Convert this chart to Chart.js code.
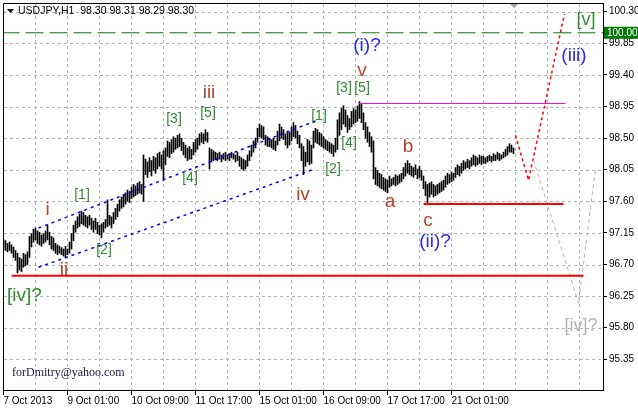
<!DOCTYPE html>
<html>
<head>
<meta charset="UTF-8">
<title>USDJPY,H1</title>
<script src="https://cdn.jsdelivr.net/npm/chart.js"></script>
<style>
  html, body { margin: 0; padding: 0; background: #fff; }
  #wrap { width: 638px; height: 408px; }
</style>
</head>
<body>
<div id="wrap"><canvas id="chart" width="638" height="408"></canvas></div>
<script>
// H1 bars, index 0 = 7 Oct 2013 17:00 (weekend hours skipped)
const highs = [
  97.06,97.04,97.00,97.02,96.98,96.95,96.90,96.86,96.80,96.78,96.86,96.84,96.88,97.10,97.14,97.20,
  97.22,97.18,97.16,97.12,97.14,97.18,97.26,97.16,97.10,97.08,97.00,96.98,96.96,96.94,96.92,96.96,
  96.92,97.02,97.14,97.26,97.32,97.38,97.42,97.46,97.44,97.40,97.38,97.40,97.36,97.32,97.36,97.30,
  97.26,97.28,97.30,97.34,97.62,97.40,97.38,97.44,97.50,97.56,97.62,97.66,97.70,97.72,97.76,97.74,
  97.80,97.84,97.82,97.86,97.88,97.84,98.26,98.20,98.16,98.22,98.18,98.24,98.22,98.28,98.30,98.26,
  98.32,98.36,98.46,98.44,98.48,98.52,98.50,98.54,98.56,98.50,98.44,98.40,98.36,98.38,98.34,98.44,
  98.48,98.50,98.56,98.58,98.56,98.62,98.58,98.36,98.34,98.32,98.30,98.28,98.30,98.26,98.28,98.30,
  98.26,98.28,98.30,98.28,98.26,98.30,98.24,98.22,98.20,98.18,98.26,98.32,98.40,98.46,98.50,98.64,
  98.70,98.68,98.66,98.54,98.52,98.50,98.48,98.50,98.46,98.60,98.70,98.66,98.62,98.56,98.60,98.58,
  98.66,98.72,98.68,98.60,98.54,98.42,98.38,98.30,98.48,98.46,98.40,98.60,98.64,98.62,98.58,98.56,
  98.52,98.48,98.46,98.44,98.42,98.40,98.50,98.76,98.86,98.92,98.96,98.90,98.82,98.78,98.88,98.92,
  98.90,98.96,99.02,98.98,98.86,98.72,98.66,98.58,98.52,98.46,98.08,98.04,98.00,97.98,97.94,97.92,
  97.90,97.96,97.92,97.94,97.98,97.96,97.98,98.00,98.08,98.14,98.18,98.14,98.10,98.08,98.12,98.06,
  98.10,98.04,97.96,97.88,97.84,97.86,97.88,97.84,97.82,97.84,97.86,97.88,97.90,97.96,98.00,97.98,
  98.02,98.00,98.08,98.12,98.10,98.14,98.18,98.16,98.20,98.18,98.22,98.26,98.24,98.22,98.26,98.24,
  98.24,98.22,98.24,98.26,98.24,98.28,98.26,98.30,98.28,98.26,98.30,98.34,98.38,98.42,98.40,98.36
];
const lows = [
  96.93,96.90,96.88,96.90,96.86,96.80,96.76,96.58,96.62,96.60,96.66,96.68,96.70,96.80,96.95,97.02,
  97.05,97.00,96.98,96.96,97.00,97.02,97.05,96.98,96.92,96.90,96.86,96.84,96.86,96.84,96.82,96.80,
  96.84,96.86,96.92,97.04,97.16,97.22,97.24,97.28,97.26,97.24,97.22,97.26,97.20,97.16,97.20,97.14,
  97.12,97.08,97.16,97.22,97.24,97.26,97.22,97.28,97.34,97.38,97.46,97.50,97.52,97.56,97.60,97.58,
  97.64,97.66,97.68,97.70,97.72,97.70,97.60,97.98,97.94,98.02,97.96,98.04,98.00,98.06,98.10,98.06,
  97.90,98.12,98.24,98.22,98.28,98.30,98.34,98.36,98.38,98.32,98.26,98.22,98.18,98.20,98.20,98.26,
  98.30,98.34,98.40,98.44,98.42,98.46,98.44,98.06,98.16,98.18,98.20,98.18,98.20,98.16,98.20,98.18,
  98.20,98.18,98.22,98.20,98.16,98.18,98.10,98.06,98.04,98.06,98.10,98.18,98.24,98.30,98.36,98.44,
  98.52,98.50,98.48,98.40,98.38,98.38,98.36,98.34,98.32,98.40,98.46,98.50,98.48,98.40,98.36,98.40,
  98.46,98.52,98.50,98.42,98.36,98.18,97.98,98.10,98.16,98.12,98.14,98.36,98.44,98.42,98.40,98.38,
  98.36,98.34,98.32,98.30,98.28,98.24,98.30,98.34,98.54,98.62,98.70,98.66,98.58,98.62,98.66,98.70,
  98.72,98.74,98.78,98.72,98.62,98.50,98.44,98.38,98.30,97.92,97.84,97.82,97.80,97.78,97.76,97.74,
  97.72,97.80,97.82,97.84,97.82,97.84,97.86,97.88,97.92,97.96,98.00,97.98,97.96,97.94,97.98,97.92,
  97.94,97.90,97.78,97.68,97.56,97.66,97.70,97.66,97.68,97.70,97.72,97.74,97.76,97.80,97.84,97.86,
  97.88,97.90,97.94,97.98,97.96,98.00,98.04,98.06,98.08,98.06,98.10,98.12,98.10,98.12,98.14,98.12,
  98.14,98.14,98.16,98.18,98.16,98.18,98.18,98.20,98.18,98.20,98.22,98.24,98.26,98.30,98.30,98.28
];

// time axis labels (bar index -> text)
const timeTickIdx = [0, 32, 64, 96, 128, 160, 192, 224];
const timeTickText = ['7 Oct 2013', '9 Oct 01:00', '10 Oct 09:00', '11 Oct 17:00',
                      '15 Oct 01:00', '16 Oct 09:00', '17 Oct 17:00', '21 Oct 01:00'];
const gridIdx = [16, 32, 48, 64, 80, 96, 112, 128, 144, 160, 176, 192, 208, 224, 240, 256, 272, 288];
const priceTicks = [95.35, 95.80, 96.25, 96.70, 97.15, 97.60, 98.05, 98.50, 98.95, 99.40, 99.85, 100.30];

// drawn lines: [bar index, price]
const channelUpper = [[17.5, 97.22], [157.5, 98.76]];
const channelLower = [[17.5, 96.66], [154.5, 98.05]];
const forecastMain = [[256, 98.54], [262.5, 97.90], [280.5, 100.27]];
const forecastAlt  = [[265, 98.19], [287.5, 96.15], [296, 98.07]];
const levelLow   = [[4, 96.54], [290, 96.54]];
const levelC     = [[210, 97.56], [280, 97.56]];
const levelTop   = [[177.5, 98.993], [281, 98.993]];
const levelTarget = [[-1, 100.00], [301, 100.00]];

const ROMAN = '#b8432b', GREEN = '#2e8b2e', BLUE = '#2b2bf0', GREY = '#b4b4b4';
const waveLabels = [
  { t: 'i',    x: 22,    y: 97.48, c: ROMAN, s: 19 },
  { t: 'ii',   x: 30.25, y: 96.62, c: ROMAN, s: 19 },
  { t: 'iii',  x: 102.75,y: 99.14, c: ROMAN, s: 19 },
  { t: 'iv',   x: 149.75,y: 97.69, c: ROMAN, s: 19 },
  { t: 'v',    x: 179.25,y: 99.46, c: ROMAN, s: 19 },
  { t: 'a',    x: 193.25,y: 97.59, c: ROMAN, s: 19 },
  { t: 'b',    x: 202.25,y: 98.37, c: ROMAN, s: 19 },
  { t: 'c',    x: 212.25,y: 97.33, c: ROMAN, s: 19 },
  { t: '[1]',  x: 39.25, y: 97.69, c: GREEN, s: 14 },
  { t: '[2]',  x: 50.25, y: 96.91, c: GREEN, s: 14 },
  { t: '[3]',  x: 85.25, y: 98.77, c: GREEN, s: 14 },
  { t: '[4]',  x: 93.25, y: 97.93, c: GREEN, s: 14 },
  { t: '[5]',  x: 102.25,y: 98.86, c: GREEN, s: 14 },
  { t: '[1]',  x: 157.75,y: 98.81, c: GREEN, s: 14 },
  { t: '[2]',  x: 164.75,y: 98.06, c: GREEN, s: 14 },
  { t: '[3]',  x: 170.25,y: 99.21, c: GREEN, s: 14 },
  { t: '[4]',  x: 172.75,y: 98.43, c: GREEN, s: 14 },
  { t: '[5]',  x: 179.25,y: 99.21, c: GREEN, s: 14 },
  { t: '[iv]?',x: 10.5,  y: 96.25, c: GREEN, s: 19 },
  { t: '[v]',  x: 291.25,y: 100.18,c: GREEN, s: 18 },
  { t: '(i)?', x: 181.75,y: 99.81, c: BLUE,  s: 19 },
  { t: '(iii)',x: 285.25,y: 99.67, c: BLUE,  s: 19 },
  { t: '(ii)?',x: 215.75,y: 97.03, c: BLUE,  s: 19 },
  { t: '[iv]?',x: 288.75,y: 95.82, c: GREY,  s: 18 }
];

const pts = arr => arr.map(p => ({ x: p[0], y: p[1] }));
const lineSet = (arr, color, width, dash) => ({
  type: 'line', data: pts(arr), borderColor: color, borderWidth: width,
  borderDash: dash, pointRadius: 0, fill: false, tension: 0
});

// dashed grid under the bars, placed through the scales
const gridPlugin = {
  id: 'mtgrid',
  beforeDatasetsDraw(chart) {
    const ctx = chart.ctx, a = chart.chartArea;
    const xs = chart.scales.x, ys = chart.scales.y;
    ctx.save();
    ctx.strokeStyle = '#b4b4b4';
    ctx.lineWidth = 1;
    ctx.setLineDash([3, 3]);
    ctx.beginPath();
    gridIdx.forEach(v => {
      const px = Math.floor(xs.getPixelForValue(v)) + 0.5;
      ctx.moveTo(px, a.top + 1); ctx.lineTo(px, a.bottom);
    });
    priceTicks.forEach(v => {
      const py = Math.round(ys.getPixelForValue(v)) + 0.5;
      ctx.moveTo(a.left + 1, py); ctx.lineTo(a.right, py);
    });
    ctx.stroke();
    ctx.restore();
  }
};

// annotations, title and the price box on the right
const decorPlugin = {
  id: 'decor',
  afterDatasetsDraw(chart) {
    const ctx = chart.ctx, xs = chart.scales.x, ys = chart.scales.y, a = chart.chartArea;
    ctx.save();
    ctx.textAlign = 'center';
    ctx.textBaseline = 'middle';
    waveLabels.forEach(l => {
      ctx.font = l.s + 'px "Liberation Sans", Arial, sans-serif';
      ctx.fillStyle = l.c;
      ctx.fillText(l.t, xs.getPixelForValue(l.x), ys.getPixelForValue(l.y));
    });
    // frame left / top
    ctx.strokeStyle = '#000';
    ctx.lineWidth = 1;
    ctx.beginPath();
    ctx.moveTo(a.left + 0.5, a.bottom);
    ctx.lineTo(a.left + 0.5, a.top + 0.5);
    ctx.lineTo(a.right, a.top + 0.5);
    ctx.stroke();
    // title
    ctx.fillStyle = '#000';
    ctx.beginPath();
    ctx.moveTo(7, 9); ctx.lineTo(14, 9); ctx.lineTo(10.5, 13);
    ctx.fill();
    ctx.textAlign = 'left';
    ctx.font = '10.5px "Liberation Sans", Arial, sans-serif';
    ctx.fillText('USDJPY,H1  98.30 98.31 98.29 98.30', 18, 11);
    // shift marker
    ctx.fillStyle = '#a0a0a0';
    ctx.beginPath();
    ctx.moveTo(510, 4); ctx.lineTo(518, 4); ctx.lineTo(514, 8);
    ctx.fill();
    // watermark
    ctx.fillStyle = '#202040';
    ctx.font = '12px "Liberation Serif", "Times New Roman", serif';
    ctx.fillText('forDmitry@yahoo.com', 12, 373);
    // 100.00 price box
    const py = ys.getPixelForValue(100.00);
    ctx.fillStyle = '#007800';
    ctx.fillRect(a.right + 1, py - 6, 34, 12);
    ctx.fillStyle = '#fff';
    ctx.font = '10px "Liberation Sans", Arial, sans-serif';
    ctx.fillText('100.00', a.right + 4, py);
    ctx.restore();
  }
};

new Chart(document.getElementById('chart'), {
  type: 'bar',
  data: {
    datasets: [
      {
        type: 'bar',
        data: highs.map((h, i) => ({ x: i, y: [lows[i], h] })),
        backgroundColor: '#000', borderWidth: 0, barThickness: 1, order: 5
      },
      lineSet(levelTarget, '#0a7a0a', 1, [18, 6]),
      lineSet(channelUpper, '#0000ff', 1.5, [3, 4]),
      lineSet(channelLower, '#0000ff', 1.5, [3, 4]),
      lineSet(levelLow, '#ff0000', 2, []),
      lineSet(levelC, '#ff0000', 2, []),
      lineSet(levelTop, '#e010e0', 1, []),
      lineSet(forecastAlt, '#b4b4b4', 1, [4, 3]),
      lineSet(forecastMain, '#ff0000', 1.5, [3, 3])
    ]
  },
  options: {
    responsive: false,
    devicePixelRatio: 1,
    animation: false,
    layout: { padding: { left: 3, top: 3, right: 0, bottom: 0 } },
    plugins: { legend: { display: false }, tooltip: { enabled: false } },
    scales: {
      x: {
        type: 'linear', min: -0.25, max: 299.75, offset: false,
        grid: {
          offset: false, drawOnChartArea: false, tickLength: 5,
          tickColor: c => (c.tick && timeTickIdx.includes(c.tick.value)) ? '#000' : 'rgba(0,0,0,0)'
        },
        border: { display: true, color: '#000', width: 1 },
        afterBuildTicks: s => {
          const t = [];
          for (let v = 0; v <= 288; v += 16) t.push({ value: v });
          s.ticks = t;
        },
        afterFit: s => { s.height = 18; s.paddingLeft = 0; s.paddingRight = 0; },
        ticks: {
          autoSkip: false, maxRotation: 0, minRotation: 0, align: 'start', padding: 0,
          color: '#000', font: { family: '"Liberation Sans", Arial, sans-serif', size: 10 },
          callback: v => {
            const k = timeTickIdx.indexOf(v);
            return k >= 0 ? timeTickText[k] : '';
          }
        }
      },
      y: {
        type: 'linear', position: 'right', min: 94.913, max: 100.424,
        grid: { drawOnChartArea: false, tickLength: 4, tickColor: '#000' },
        border: { display: true, color: '#000', width: 1 },
        afterBuildTicks: s => { s.ticks = priceTicks.map(v => ({ value: v })); },
        afterFit: s => { s.width = 35; s.paddingTop = 0; s.paddingBottom = 0; },
        ticks: {
          padding: 2, color: '#000',
          font: { family: '"Liberation Sans", Arial, sans-serif', size: 10 },
          callback: v => v.toFixed(2)
        }
      }
    }
  },
  plugins: [gridPlugin, decorPlugin]
});
</script>
</body>
</html>
